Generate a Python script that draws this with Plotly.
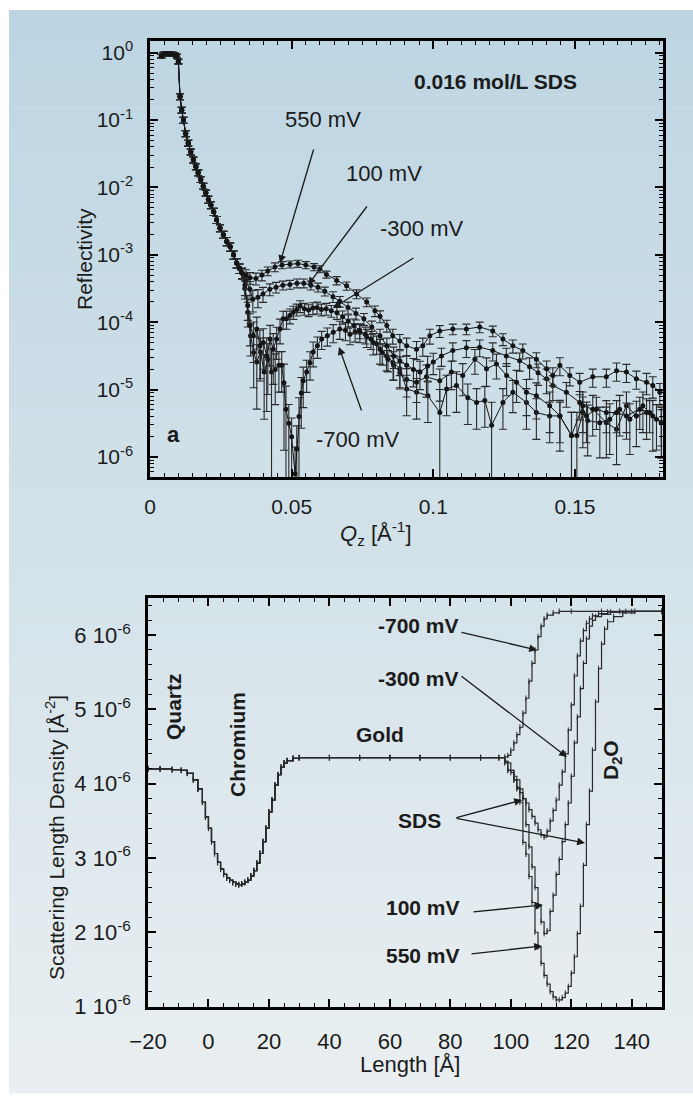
import plotly.graph_objects as go

WIN_W, WIN_H = 693, 1096
OFF = 0
FW, FH = WIN_W, WIN_H
FONT = "Liberation Sans, Arial, sans-serif"
INK = "#1b1b1b"

# ---------------- Reflectivity data (Q in 1/Å, log10 R, relative error) ----------------
q_com = [0.0040, 0.0048, 0.0056, 0.0064, 0.0072, 0.0080, 0.0088, 0.0095, 0.0100, 0.0106,
         0.0112, 0.0118, 0.0126, 0.0135, 0.0144, 0.0153, 0.0162, 0.0170, 0.0179, 0.0188,
         0.0197, 0.0206, 0.0215, 0.0225, 0.0235, 0.0247, 0.0259, 0.0271, 0.0283, 0.0295,
         0.0306, 0.0316, 0.0325]
lr_com = [-0.05, -0.02, -0.01, -0.01, -0.02, -0.02, -0.03, -0.05, -0.13, -0.65,
          -0.85, -1.00, -1.20, -1.34, -1.47, -1.59, -1.69, -1.78, -1.88, -1.98,
          -2.08, -2.18, -2.26, -2.36, -2.48, -2.60, -2.70, -2.80, -2.88, -3.00,
          -3.12, -3.20, -3.27]
e_com = [0.06, 0.06, 0.06, 0.06, 0.06, 0.06, 0.06, 0.06, 0.08, 0.10,
         0.10, 0.10, 0.10, 0.10, 0.10, 0.10, 0.10, 0.10, 0.10, 0.10,
         0.10, 0.12, 0.12, 0.12, 0.12, 0.12, 0.12, 0.14, 0.14, 0.14,
         0.16, 0.16, 0.18]

q_550 = [0.0339, 0.0353, 0.0374, 0.0395, 0.0416, 0.0441, 0.0466, 0.0494, 0.0522, 0.0550,
         0.0579, 0.0600, 0.0623, 0.0659, 0.0694, 0.0729, 0.0765, 0.0794, 0.0812, 0.0836,
         0.0857, 0.0882, 0.0906, 0.0941, 0.0963, 0.0988, 0.1023, 0.1069, 0.1117, 0.1164,
         0.1210, 0.1246, 0.1281, 0.1316, 0.1364, 0.1400, 0.1422, 0.1447, 0.1482, 0.1517,
         0.1563, 0.1611, 0.1647, 0.1682, 0.1717, 0.1753, 0.1775, 0.1800]
lr_550 = [-3.30, -3.34, -3.35, -3.30, -3.24, -3.18, -3.15, -3.14, -3.13, -3.15,
          -3.18, -3.21, -3.29, -3.38, -3.46, -3.58, -3.70, -3.83, -3.91, -4.05,
          -4.20, -4.28, -4.35, -4.40, -4.35, -4.20, -4.13, -4.10, -4.10, -4.07,
          -4.13, -4.25, -4.35, -4.42, -4.55, -4.69, -4.79, -4.64, -4.79, -4.89,
          -4.81, -4.81, -4.72, -4.74, -4.84, -4.89, -4.94, -5.04]
e_550 = [0.20, 0.20, 0.20, 0.18, 0.15, 0.15, 0.12, 0.12, 0.12, 0.12,
         0.12, 0.12, 0.12, 0.14, 0.14, 0.15, 0.15, 0.18, 0.20, 0.20,
         0.25, 0.25, 0.30, 0.30, 0.30, 0.25, 0.20, 0.18, 0.18, 0.18,
         0.18, 0.20, 0.22, 0.25, 0.25, 0.30, 0.30, 0.30, 0.30, 0.35,
         0.30, 0.30, 0.30, 0.30, 0.30, 0.35, 0.35, 0.35]

q_100 = [0.0339, 0.0353, 0.0363, 0.0381, 0.0399, 0.0423, 0.0445, 0.0469, 0.0494, 0.0519,
         0.0543, 0.0568, 0.0593, 0.0617, 0.0646, 0.0670, 0.0699, 0.0727, 0.0755, 0.0783,
         0.0812, 0.0836, 0.0860, 0.0882, 0.0906, 0.0930, 0.0953, 0.0980, 0.1000, 0.1029,
         0.1069, 0.1117, 0.1164, 0.1210, 0.1258, 0.1305, 0.1340, 0.1370, 0.1400, 0.1422,
         0.1470, 0.1517, 0.1541, 0.1576, 0.1611, 0.1647, 0.1682, 0.1729, 0.1764, 0.1805]
lr_100 = [-3.38, -3.51, -3.66, -3.63, -3.58, -3.51, -3.48, -3.45, -3.44, -3.42,
          -3.42, -3.45, -3.48, -3.54, -3.62, -3.69, -3.78, -3.87, -3.95, -4.07,
          -4.20, -4.35, -4.50, -4.57, -4.64, -4.70, -4.74, -4.65, -4.59, -4.50,
          -4.42, -4.38, -4.37, -4.42, -4.50, -4.57, -4.66, -4.75, -4.84, -4.94,
          -5.04, -5.19, -5.39, -5.29, -5.34, -5.34, -5.39, -5.29, -5.34, -5.49]
e_100 = [0.25, 0.30, 0.35, 0.30, 0.25, 0.20, 0.18, 0.15, 0.15, 0.15,
         0.15, 0.15, 0.15, 0.15, 0.18, 0.18, 0.20, 0.20, 0.20, 0.22,
         0.25, 0.30, 0.35, 0.40, 0.40, 0.45, 0.45, 0.40, 0.35, 0.30,
         0.30, 0.28, 0.28, 0.30, 0.30, 0.30, 0.35, 0.35, 0.40, 0.40,
         0.40, 0.45, 0.60, 0.50, 0.50, 0.50, 0.55, 0.50, 0.50, 0.55]

q_m300 = [0.0335, 0.0345, 0.0353, 0.0365, 0.0377, 0.0388, 0.0400, 0.0412, 0.0424, 0.0435,
          0.0447, 0.0459, 0.0470, 0.0482, 0.0494, 0.0506, 0.0518, 0.0530, 0.0545, 0.0560,
          0.0575, 0.0590, 0.0605, 0.0622, 0.0640, 0.0660, 0.0680, 0.0700, 0.0720, 0.0740,
          0.0760, 0.0780, 0.0800, 0.0820, 0.0840, 0.0860, 0.0882, 0.0906, 0.0941, 0.0976,
          0.1023, 0.1064, 0.1104, 0.1147, 0.1188, 0.1223, 0.1259, 0.1294, 0.1329, 0.1364,
          0.1411, 0.1447, 0.1488, 0.1528, 0.1563, 0.1611, 0.1647, 0.1682, 0.1717, 0.1753,
          0.1788, 0.1805]
lr_m300 = [-3.45, -3.75, -4.05, -4.20, -4.10, -4.35, -4.30, -4.50, -4.25, -4.40,
           -4.25, -4.10, -3.95, -3.95, -3.90, -3.85, -3.81, -3.76, -3.80, -3.82,
           -3.79, -3.78, -3.81, -3.80, -3.83, -3.86, -3.92, -3.98, -4.05, -4.12,
           -4.18, -4.25, -4.32, -4.45, -4.55, -4.64, -4.75, -4.85, -4.89, -4.81,
           -4.87, -4.74, -4.79, -4.55, -4.69, -4.62, -4.79, -4.89, -5.04, -5.09,
           -5.24, -5.39, -5.68, -5.24, -5.29, -5.49, -5.59, -5.24, -5.39, -5.34,
           -5.44, -5.49]
e_m300 = [0.30, 0.40, 0.50, 0.60, 0.50, 0.70, 0.60, 0.85, 0.60, 0.70,
          0.50, 0.40, 0.30, 0.30, 0.25, 0.22, 0.20, 0.20, 0.20, 0.20,
          0.20, 0.20, 0.20, 0.20, 0.20, 0.20, 0.22, 0.22, 0.25, 0.25,
          0.28, 0.30, 0.30, 0.35, 0.35, 0.40, 0.40, 0.45, 0.50, 0.50,
          0.50, 0.45, 0.50, 0.40, 0.45, 0.40, 0.50, 0.50, 0.55, 0.55,
          0.60, 0.60, 1.20, 0.60, 0.60, 0.70, 0.70, 0.60, 0.65, 0.60,
          0.65, 0.70]

q_m700 = [0.0335, 0.0345, 0.0355, 0.0366, 0.0377, 0.0390, 0.0403, 0.0416, 0.0429, 0.0442,
          0.0455, 0.0465, 0.0473, 0.0480, 0.0490, 0.0500, 0.0512, 0.0518, 0.0526, 0.0534,
          0.0541, 0.0553, 0.0565, 0.0576, 0.0591, 0.0606, 0.0626, 0.0647, 0.0670, 0.0690,
          0.0706, 0.0724, 0.0741, 0.0765, 0.0788, 0.0812, 0.0835, 0.0858, 0.0882, 0.0906,
          0.0941, 0.0981, 0.1023, 0.1047, 0.1082, 0.1122, 0.1153, 0.1182, 0.1206, 0.1246,
          0.1281, 0.1329, 0.1364, 0.1411, 0.1447, 0.1488, 0.1507, 0.1528, 0.1545, 0.1588,
          0.1623, 0.1658, 0.1694, 0.1740, 0.1775, 0.1806]
lr_m700 = [-3.50, -3.85, -4.20, -4.45, -4.59, -4.44, -4.74, -4.55, -4.74, -4.70,
           -4.64, -4.64, -4.90, -5.29, -5.50, -5.70, -6.25, -5.88, -5.40, -5.05,
           -4.87, -4.74, -4.60, -4.44, -4.35, -4.25, -4.20, -4.15, -4.10, -4.12,
           -4.18, -4.14, -4.15, -4.22, -4.30, -4.40, -4.50, -4.60, -4.69, -4.99,
           -5.04, -5.09, -5.34, -4.99, -4.94, -5.12, -5.19, -5.16, -5.53, -5.19,
           -5.04, -5.19, -5.34, -5.39, -5.39, -5.68, -5.68, -5.34, -5.46, -5.49,
           -5.44, -5.29, -5.44, -5.24, -5.39, -5.49]
e_m700 = [0.30, 0.40, 0.50, 0.70, 0.80, 0.60, 0.80, 0.70, 1.20, 0.70,
          0.60, 0.60, 0.90, 1.20, 0.90, 0.90, 1.50, 1.20, 0.90, 0.70,
          0.60, 0.50, 0.45, 0.40, 0.35, 0.30, 0.30, 0.30, 0.30, 0.30,
          0.30, 0.30, 0.30, 0.30, 0.35, 0.40, 0.40, 0.45, 0.50, 0.60,
          0.60, 0.60, 1.20, 0.60, 0.60, 0.60, 0.60, 0.60, 1.20, 0.60,
          0.50, 0.60, 0.60, 0.60, 0.70, 1.20, 1.20, 0.70, 0.70, 0.70,
          0.70, 0.60, 0.70, 0.60, 0.70, 0.70]

# ---------------- Scattering length density profiles (Å, units of 1e-6 Å^-2) ----------------
z_com = [-20, -16, -12, -9, -7, -5, -3.5, -2, -1, 0,
         1, 2, 3, 4, 5, 6, 7, 8, 9, 10,
         11, 12, 13, 14, 15, 16, 17, 18, 19, 20,
         21, 22, 23, 24, 25, 26, 28, 30, 40, 50, 60, 70, 80, 90, 96]
sld_com = [4.20, 4.20, 4.19, 4.18, 4.14, 4.05, 3.93, 3.75, 3.55, 3.40,
           3.22, 3.06, 2.94, 2.85, 2.78, 2.73, 2.70, 2.67, 2.65, 2.64,
           2.65, 2.67, 2.70, 2.76, 2.83, 2.93, 3.06, 3.22, 3.40, 3.62,
           3.78, 3.98, 4.12, 4.22, 4.28, 4.31, 4.34, 4.35, 4.35, 4.35, 4.35, 4.35, 4.35, 4.35, 4.35]

z_m700 = [98, 99, 100, 101, 102, 103, 104, 105, 106, 107,
          108, 109, 110, 111, 112, 114, 116, 120, 130, 140, 150]
sld_m700 = [4.36, 4.38, 4.45, 4.55, 4.66, 4.76, 4.95, 5.15, 5.38, 5.62,
            5.80, 5.98, 6.12, 6.22, 6.27, 6.30, 6.32, 6.32, 6.32, 6.32, 6.32]

z_m300 = [98, 100, 101, 102, 103, 104, 105, 106, 107, 108,
          109, 110, 111, 112, 113, 114, 115, 116, 117, 118,
          119, 120, 121, 122, 123, 124, 125, 126, 127, 129, 132, 136, 150]
sld_m300 = [4.28, 4.15, 4.05, 3.95, 3.88, 3.80, 3.74, 3.65, 3.56, 3.47,
            3.38, 3.31, 3.28, 3.36, 3.50, 3.64, 3.78, 3.98, 4.16, 4.40,
            4.72, 5.06, 5.45, 5.72, 5.92, 6.06, 6.16, 6.22, 6.26, 6.29, 6.31, 6.32, 6.32]

z_100 = [98, 99, 101, 102, 104, 105, 106, 107, 108, 109,
         110, 111, 112, 113, 114, 115, 116, 117, 118, 119,
         120, 121, 122, 123, 124, 125, 126, 127, 128, 130, 133, 138, 150]
sld_100 = [4.30, 4.18, 4.10, 3.93, 3.80, 3.45, 3.15, 2.88, 2.60, 2.35,
           2.14, 1.98, 2.02, 2.28, 2.50, 2.78, 2.98, 3.22, 3.45, 3.74,
           4.10, 4.55, 4.90, 5.28, 5.62, 5.95, 6.12, 6.20, 6.25, 6.28, 6.31, 6.32, 6.32]

z_550 = [98, 99, 101, 103, 104, 105, 106, 107, 108, 109,
         110, 111, 112, 113, 114, 115, 116, 117, 118, 119,
         120, 121, 122, 123, 124, 125, 126, 127, 128, 129,
         130, 131, 132, 134, 137, 141, 150]
sld_550 = [4.30, 4.18, 4.05, 3.75, 3.21, 3.05, 2.75, 2.40, 2.00, 1.80,
           1.58, 1.42, 1.30, 1.20, 1.13, 1.09, 1.09, 1.12, 1.18, 1.27,
           1.45, 1.67, 1.98, 2.35, 2.90, 3.45, 3.90, 4.45, 5.10, 5.55,
           5.88, 6.08, 6.18, 6.25, 6.30, 6.32, 6.32]

# ---------------- tick labels ----------------
refl_tickvals = [1, 1e-1, 1e-2, 1e-3, 1e-4, 1e-5, 1e-6]
refl_ticktext = ["10<sup>0</sup>", "10<sup>-1</sup>", "10<sup>-2</sup>", "10<sup>-3</sup>",
                 "10<sup>-4</sup>", "10<sup>-5</sup>", "10<sup>-6</sup>"]
q_tickvals = [0, 0.05, 0.1, 0.15]
q_ticktext = ["0", "0.05", "0.1", "0.15"]
len_tickvals = [-20, 0, 20, 40, 60, 80, 100, 120, 140]
sld_tickvals = [1, 2, 3, 4, 5, 6]
sld_ticktext = ["1 10<sup>-6</sup>", "2 10<sup>-6</sup>", "3 10<sup>-6</sup>",
                "4 10<sup>-6</sup>", "5 10<sup>-6</sup>", "6 10<sup>-6</sup>"]


def px(x):
    """window pixel x -> paper fraction"""
    return (x - OFF) / FW


def py(y):
    """window pixel y -> paper fraction"""
    return 1 - (y - OFF) / FH


fig = go.Figure()


def add_refl(q_tail, lr_tail, e_tail, name):
    q = q_com + q_tail
    lr = lr_com + lr_tail
    e = e_com + e_tail
    r = [10 ** v for v in lr]
    err = [ri * ei for ri, ei in zip(r, e)]
    fig.add_trace(go.Scatter(
        x=q, y=r, mode="lines+markers", name=name, showlegend=False,
        line=dict(color="#151515", width=1),
        marker=dict(size=5, color="#151515", symbol="circle"),
        error_y=dict(type="data", array=err, symmetric=True, thickness=1.1, width=4, color="#2a2a2a"),
        xaxis="x", yaxis="y"))


add_refl(q_m700, lr_m700, e_m700, "-700 mV")
add_refl(q_m300, lr_m300, e_m300, "-300 mV")
add_refl(q_100, lr_100, e_100, "100 mV")
add_refl(q_550, lr_550, e_550, "550 mV")


def add_sld(z_tail, v_tail, name):
    fig.add_trace(go.Scatter(
        x=z_com + z_tail, y=sld_com + v_tail, mode="lines+markers", name=name, showlegend=False,
        line=dict(shape="hv", color="#2a2a2a", width=1.2),
        marker=dict(symbol="line-ns", size=4, line=dict(width=1, color="#2a2a2a")),
        xaxis="x2", yaxis="y2"))


add_sld(z_m700, sld_m700, "-700 mV")
add_sld(z_m300, sld_m300, "-300 mV")
add_sld(z_100, sld_100, "100 mV")
add_sld(z_550, sld_550, "550 mV")


# ---------------- layout ----------------
def ax_style(size):
    return dict(showline=True, linecolor="black", linewidth=2.5, mirror="ticks",
                ticks="inside", ticklen=8, tickwidth=1.6, tickcolor="black",
                showgrid=False, zeroline=False, automargin=False,
                tickfont=dict(family=FONT, size=size, color=INK))


minor_log = [m * 10.0 ** k for k in range(-7, 1) for m in range(2, 10)]

fig.update_layout(
    width=FW, height=FH, autosize=False,
    margin=dict(l=0, r=0, t=0, b=0, pad=0),
    paper_bgcolor="white", plot_bgcolor="rgba(0,0,0,0)",
    showlegend=False,
    xaxis=dict(**ax_style(21), domain=[px(150), px(662.7)], range=[0, 0.181],
               tickmode="array", tickvals=q_tickvals, ticktext=q_ticktext, anchor="y",
               ticklabelstandoff=9,
               minor=dict(ticks="inside", ticklen=4, tickwidth=1.3, dtick=0.005, tick0=0,
                          tickcolor="black", showgrid=False)),
    yaxis=dict(**ax_style(21), type="log", domain=[py(477), py(41)],
               range=[-6.297, 0.174], tickmode="array", tickvals=refl_tickvals,
               ticktext=refl_ticktext, anchor="x", ticklabelstandoff=10,
               minor=dict(ticks="inside", ticklen=4, tickwidth=1.3, tickmode="array",
                          tickvals=minor_log, tickcolor="black", showgrid=False)),
    xaxis2=dict(**ax_style(22), domain=[px(148), px(662)], range=[-20, 150],
                tickmode="array", tickvals=len_tickvals, anchor="y2",
                ticklabelstandoff=13,
                minor=dict(ticks="inside", ticklen=4, tickwidth=1.3, dtick=5, tick0=-20,
                           tickcolor="black", showgrid=False)),
    yaxis2=dict(**ax_style(22), domain=[py(1006.5), py(598)], range=[1.0, 6.5],
                tickmode="array", tickvals=sld_tickvals, ticktext=sld_ticktext, anchor="x2",
                ticklabelstandoff=10,
                minor=dict(ticks="inside", ticklen=4, tickwidth=1.3, dtick=0.2, tick0=1.0,
                           tickcolor="black", showgrid=False)),
)

# background gradient panel
top_rgb = (189, 213, 226)
bot_rgb = (233, 239, 241)
y0_px, y1_px, x0_px = 10, 1093, 9
n_strips = 90
shapes = []
for i in range(n_strips):
    t = i / (n_strips - 1)
    c = tuple(round(a + (b - a) * t) for a, b in zip(top_rgb, bot_rgb))
    ya = y0_px + (y1_px - y0_px) * i / n_strips
    yb = y0_px + (y1_px - y0_px) * (i + 1) / n_strips + 0.6
    shapes.append(dict(type="rect", xref="paper", yref="paper", layer="below",
                       x0=px(x0_px), x1=1.01, y0=max(py(yb), 0), y1=py(ya),
                       fillcolor="rgb(%d,%d,%d)" % c, line=dict(width=0)))
fig.update_layout(shapes=shapes)


def label(text, x, y, size=21, bold=False, angle=0, color=INK):
    fig.add_annotation(x=px(x), y=py(y), xref="paper", yref="paper",
                       text=("<b>%s</b>" % text) if bold else text, showarrow=False,
                       font=dict(family=FONT, size=size, color=color), textangle=angle,
                       xanchor="center", yanchor="middle")


def arrow(tail, tip):
    fig.add_annotation(x=px(tip[0]), y=py(tip[1]), xref="paper", yref="paper",
                       ax=tail[0] - tip[0], ay=tail[1] - tip[1], text="", showarrow=True,
                       arrowhead=2, arrowsize=1.2, arrowwidth=1.3, arrowcolor=INK, standoff=0)


# axis titles
label("Reflectivity", 84, 259, size=21, angle=-90)
label("<i>Q</i><sub>z</sub> [Å<sup>-1</sup>]", 376, 533, size=22)
label("Scattering Length Density [Å<sup>-2</sup>]", 55, 838, size=21, angle=-90)
label("Length [Å]", 410, 1064, size=22)

# top panel texts
label("0.016 mol/L SDS", 495, 82, bold=True)
label("550 mV", 323, 120, size=22)
label("100 mV", 384, 174, size=22)
label("-300 mV", 422, 228, size=22)
label("-700 mV", 357, 439, size=22)
label("a", 173, 434, bold=True, size=22)
arrow((314, 148), (280, 263))
arrow((368, 205), (308, 285))
arrow((415, 257), (333, 308))
arrow((362, 412), (339, 347))

# bottom panel texts
label("Quartz", 173, 707, bold=True, angle=-90)
label("Chromium", 237, 745, bold=True, angle=-90)
label("Gold", 380, 734, bold=True)
label("-700 mV", 418, 625, bold=True)
label("-300 mV", 418, 678, bold=True)
label("D<sub>2</sub>O", 612, 760, bold=True, angle=-90)
label("SDS", 419, 820, bold=True)
label("100 mV", 423, 907, bold=True)
label("550 mV", 423, 955, bold=True)
arrow((460, 632), (537, 650))
arrow((460, 675), (567, 757))
arrow((455, 818), (522, 800))
arrow((455, 818), (585, 843))
arrow((472, 912), (543, 905))
arrow((470, 954), (542, 946))

# place the 693x1096 figure flush with the window (no default body margin)
fig.write_html("out.html",
               config={"displayModeBar": False},
               post_script="document.body.style.margin='0px';"
                           "document.documentElement.style.overflow='hidden';")
